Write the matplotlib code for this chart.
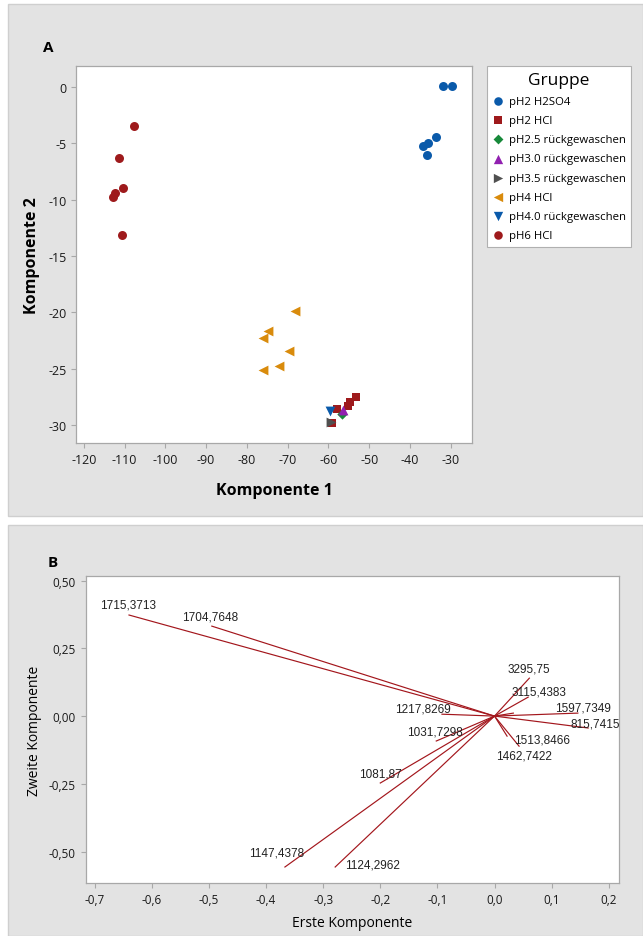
"""Score plot (A) und Loading plot (B) nachbauen."""

import matplotlib
matplotlib.use("Agg")
import matplotlib.pyplot as plt  # noqa: E402
from matplotlib.patches import Rectangle  # noqa: E402
from matplotlib.ticker import FuncFormatter  # noqa: E402

plt.rcParams["axes.unicode_minus"] = False
plt.rcParams["font.family"] = ["Open Sans", "DejaVu Sans"]

# --- Daten Panel A (Score plot) ---
groups = [
    "pH2 H2SO4", "pH2 HCl", "pH2.5 rückgewaschen", "pH3.0 rückgewaschen",
    "pH3.5 rückgewaschen", "pH4 HCl", "pH4.0 rückgewaschen", "pH6 HCl",
]
group_x = [
    [-31.9, -29.7, -33.6, -35.6, -36.8, -35.8],
    [-53.2, -54.7, -55.2, -57.9, -59.1],
    [-56.6],
    [-56.4],
    [-59.3],
    [-68.2, -74.8, -76.0, -69.7, -76.0, -72.1],
    [-59.6],
    [-107.6, -111.3, -110.3, -112.3, -112.8, -110.6],
]
group_y = [
    [0.1, 0.1, -4.4, -5.0, -5.2, -6.0],
    [-27.5, -28.0, -28.3, -28.6, -29.8],
    [-29.0],
    [-28.7],
    [-29.7],
    [-19.9, -21.7, -22.3, -23.4, -25.1, -24.8],
    [-28.8],
    [-3.5, -6.3, -9.0, -9.4, -9.8, -13.1],
]
group_markers = ["o", "s", "D", "^", ">", "<", "v", "o"]
group_colors = ["#0a5aaa", "#9e1a1c", "#17893a", "#9120b0",
                "#505050", "#d98b0c", "#0a5aaa", "#9e1a1c"]
group_sizes = [42, 40, 28, 50, 50, 50, 50, 42]

# --- Daten Panel B (Loading plot) ---
load_labels = [
    "1715,3713", "1704,7648", "3295,75", "3115,4383", "", "1597,7349",
    "815,7415", "1217,8269", "1031,7298", "1081,87", "1147,4378",
    "1124,2962", "1513,8466", "1462,7422",
]
load_x = [-0.640, -0.495, 0.061, 0.059, 0.033, 0.146, 0.164, -0.092,
          -0.102, -0.200, -0.367, -0.279, 0.022, 0.043]
load_y = [0.373, 0.332, 0.140, 0.070, 0.011, 0.011, -0.044, 0.007,
          -0.092, -0.247, -0.557, -0.557, -0.074, -0.111]
# Versatz der Beschriftung (Pixel)
lab_dx = [-1, -2, 0, 11, 0, 5, 7, -19, -1, 0, -8, 37, 35, 5]
lab_dy = [11, 10, 10, 6, 0, 6, 5, 6, 10, 10, 15, 3, -3, -9]

W, H = 643, 937
fig = plt.figure(figsize=(W / 100, H / 100), dpi=100)
fig.patch.set_facecolor("white")

# graue Panel-Hintergründe
for y0, y1 in [(5, 517), (526, 937)]:
    fig.patches.append(Rectangle(
        (8 / W, 1 - y1 / H), 1 - 8 / W, (y1 - y0) / H,
        transform=fig.transFigure, facecolor="#e3e3e3",
        edgecolor="#cfcfcf", linewidth=1.0, zorder=-5))

spine_col = "#a8a8a8"


def style_axes(ax):
    ax.set_facecolor("white")
    for side in ["top", "right", "bottom", "left"]:
        ax.spines[side].set_color(spine_col)
        ax.spines[side].set_linewidth(0.9)
    ax.tick_params(direction="out", length=3.5, width=0.8, color=spine_col,
                   labelcolor="#1a1a1a")


# ---------------- Panel A ----------------
axA = fig.add_axes([76.4 / W, 1 - 444 / H, (472 - 76.4) / W, (444 - 67) / H])
style_axes(axA)
for name, xs, ys, m, c, s in zip(groups, group_x, group_y, group_markers,
                                 group_colors, group_sizes):
    axA.scatter(xs, ys, marker=m, color=c, s=s, linewidths=0, label=name)
axA.set_xlim(-121.8, -24.8)
axA.set_ylim(-31.6, 1.86)
axA.set_xticks(range(-120, -29, 10))
axA.set_yticks(range(-30, 1, 5))
axA.tick_params(labelsize=9)
axA.set_xlabel("Komponente 1", fontsize=11.5, fontweight="bold", labelpad=12)
axA.set_ylabel("Komponente 2", fontsize=11.5, fontweight="bold", labelpad=6)

leg = fig.legend(loc="upper left", bbox_to_anchor=(487 / W, 1 - 67 / H),
                 title="Gruppe", fontsize=8.2, title_fontsize=12.5,
                 frameon=True, fancybox=False, edgecolor="#b0b0b0",
                 facecolor="white", framealpha=1,
                 labelspacing=0.72, handletextpad=0.4, handlelength=1.0,
                 borderpad=0.5, scatterpoints=1, markerscale=0.95,
                 borderaxespad=0)
leg.get_frame().set_linewidth(0.8)

fig.text(48 / W, 1 - 48 / H, "A", fontsize=11, fontweight="bold",
         ha="center", va="center")

# ---------------- Panel B ----------------
axB = fig.add_axes([85.6 / W, 1 - 884 / H, (619 - 85.6) / W, (884 - 577) / H])
style_axes(axB)
for lx, ly, lab, dx, dy in zip(load_x, load_y, load_labels, lab_dx, lab_dy):
    axB.plot([0, lx], [0, ly], color="#a3161c", linewidth=0.85)
    if lab:
        axB.annotate(lab, (lx, ly), xytext=(dx, dy), textcoords="offset pixels",
                     ha="center", va="center", fontsize=8.5, color="#222222",
                     family=["Liberation Sans", "DejaVu Sans"])
axB.set_xlim(-0.716, 0.218)
axB.set_ylim(-0.616, 0.517)
axB.set_xticks([-0.7, -0.6, -0.5, -0.4, -0.3, -0.2, -0.1, 0.0, 0.1, 0.2])
axB.set_yticks([-0.5, -0.25, 0.0, 0.25, 0.5])
axB.xaxis.set_major_formatter(FuncFormatter(lambda v, _: f"{v:.1f}".replace(".", ",")))
axB.yaxis.set_major_formatter(FuncFormatter(lambda v, _: f"{v:.2f}".replace(".", ",")))
axB.tick_params(labelsize=8.5)
axB.set_xlabel("Erste Komponente", fontsize=10, labelpad=7)
axB.set_ylabel("Zweite Komponente", fontsize=10, labelpad=5)

fig.text(53 / W, 1 - 563 / H, "B", fontsize=11, fontweight="bold",
         ha="center", va="center")

fig.savefig("out.png", dpi=100)
